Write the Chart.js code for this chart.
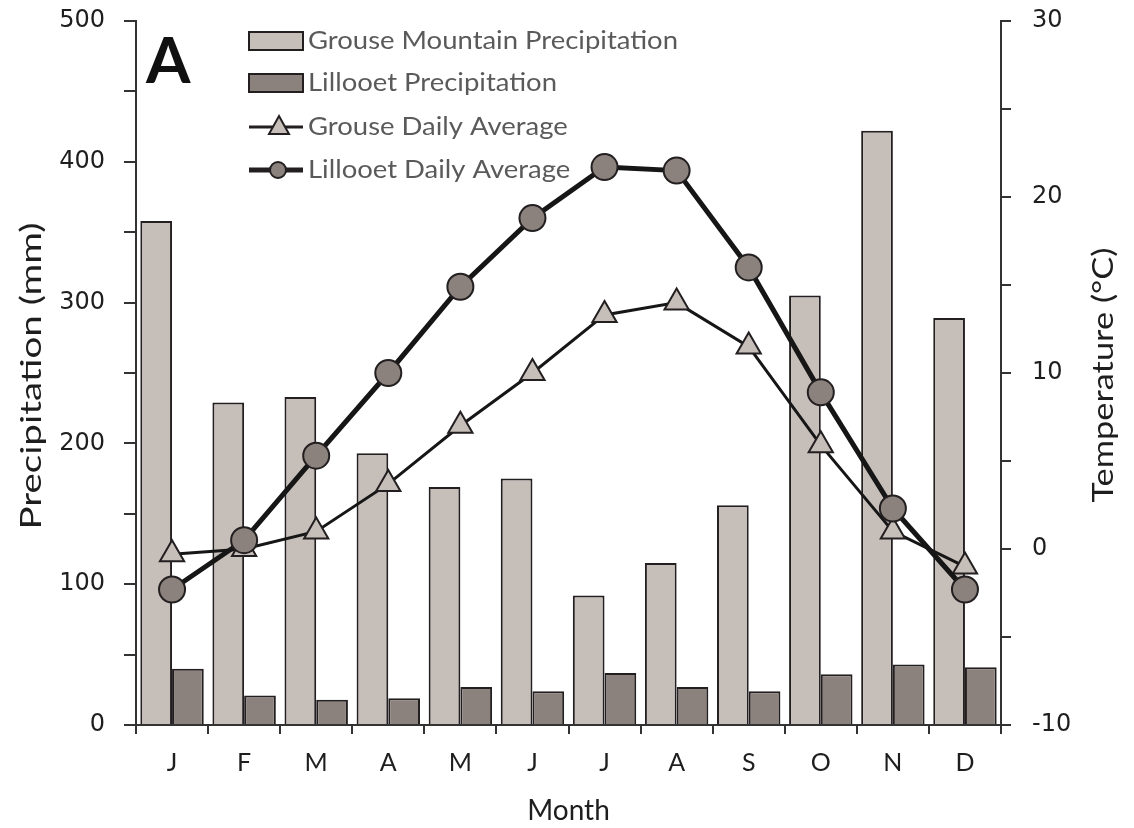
<!DOCTYPE html>
<html>
<head>
<meta charset="utf-8">
<script src="https://cdn.jsdelivr.net/npm/chart.js@4/dist/chart.umd.min.js"></script>
<style>
  html, body { margin: 0; padding: 0; background: #fff; }
  #wrap { width: 1134px; height: 828px; }
</style>
</head>
<body>
<div id="wrap"><canvas id="chart" width="1134" height="828"></canvas></div>
<script>
// values
var months = ['J', 'F', 'M', 'A', 'M', 'J', 'J', 'A', 'S', 'O', 'N', 'D'];
var grousePrecip = [358, 229, 233, 193, 169, 175, 92, 115, 156, 305, 422, 289];
var lillooetPrecip = [40, 21, 18, 19, 27, 24, 37, 27, 24, 36, 43, 41];
var grouseTemp = [-0.3, 0.0, 1.0, 3.7, 7.0, 10.0, 13.3, 14.0, 11.5, 5.9, 1.0, -1.0];
var lillooetTemp = [-2.3, 0.5, 5.3, 10.0, 14.9, 18.8, 21.7, 21.5, 16.0, 8.9, 2.3, -2.3];
var precipTicks = [0, 100, 200, 300, 400, 500];
var tempTicks = [-10, 0, 10, 20, 30];

var lightFill = '#c6beb9';
var darkFill = '#8b827d';
var edge = '#231f20';
var textCol = '#1e1e1e';
var legendText = '#5b5a5a';
var fontFam = 'Lato, "Open Sans", sans-serif';
var numFam = '"DejaVu Sans", sans-serif';

// rotated text stretched along its direction to a given length
function vText(ctx, txt, cx, cy, size, len) {
  ctx.save();
  ctx.font = size + 'px ' + fontFam;
  var w = ctx.measureText(txt).width;
  ctx.translate(cx, cy);
  ctx.rotate(-Math.PI / 2);
  ctx.scale(len / w, 1);
  ctx.textAlign = 'center';
  ctx.textBaseline = 'middle';
  ctx.fillStyle = textCol;
  ctx.fillText(txt, 0, 0);
  ctx.restore();
}

// legend, panel letter and axis titles drawn by hand
var extrasPlugin = {
  id: 'extras',
  afterDraw: function(chart) {
    var ctx = chart.ctx;
    ctx.save();
    ctx.font = 'bold 64px ' + fontFam;
    ctx.fillStyle = '#111';
    ctx.textBaseline = 'alphabetic';
    ctx.fillText('A', 146, 83);

    vText(ctx, 'Precipitation (mm)', 32, 376, 28, 307);
    vText(ctx, 'Temperature (°C)', 1104, 375, 28, 255);

    var x0 = 249, x1 = 303;
    var rows = [41, 83, 127, 170];
    var labels = ['Grouse Mountain Precipitation', 'Lillooet Precipitation',
                  'Grouse Daily Average', 'Lillooet Daily Average'];

    ctx.lineWidth = 2;
    ctx.strokeStyle = edge;
    ctx.fillStyle = lightFill;
    ctx.fillRect(x0, rows[0] - 9, x1 - x0, 18);
    ctx.strokeRect(x0, rows[0] - 9, x1 - x0, 18);
    ctx.fillStyle = darkFill;
    ctx.fillRect(x0, rows[1] - 9, x1 - x0, 18);
    ctx.strokeRect(x0, rows[1] - 9, x1 - x0, 18);

    ctx.lineWidth = 3;
    ctx.beginPath(); ctx.moveTo(x0, rows[2]); ctx.lineTo(x1, rows[2]); ctx.stroke();
    ctx.lineWidth = 2;
    ctx.fillStyle = lightFill;
    ctx.beginPath();
    ctx.moveTo(279, rows[2] - 11); ctx.lineTo(289, rows[2] + 7); ctx.lineTo(269, rows[2] + 7);
    ctx.closePath(); ctx.fill(); ctx.stroke();

    ctx.lineWidth = 5;
    ctx.beginPath(); ctx.moveTo(x0, rows[3]); ctx.lineTo(x1, rows[3]); ctx.stroke();
    ctx.lineWidth = 2;
    ctx.fillStyle = darkFill;
    ctx.beginPath(); ctx.arc(278, rows[3], 8, 0, Math.PI * 2); ctx.fill(); ctx.stroke();

    ctx.font = '25px ' + fontFam;
    var k = 370 / ctx.measureText(labels[0]).width;
    ctx.fillStyle = legendText;
    ctx.textBaseline = 'middle';
    for (var i = 0; i < labels.length; i++) {
      ctx.save();
      ctx.translate(308, rows[i]);
      ctx.scale(k, 1);
      ctx.fillText(labels[i], 0, 0);
      ctx.restore();
    }
    ctx.restore();
  }
};

function fixY(width) {
  return function(s) { s.width = width; s.paddingTop = 0; s.paddingBottom = 0; };
}

new Chart(document.getElementById('chart'), {
  type: 'bar',
  data: {
    labels: months,
    datasets: [{
      type: 'line',
      label: 'Lillooet Daily Average',
      data: lillooetTemp,
      yAxisID: 'yT',
      borderColor: '#161616',
      borderWidth: 5,
      pointStyle: 'circle',
      pointRadius: 13,
      pointBackgroundColor: darkFill,
      pointBorderColor: edge,
      pointBorderWidth: 2,
      tension: 0,
      order: 0
    }, {
      type: 'line',
      label: 'Grouse Daily Average',
      data: grouseTemp,
      yAxisID: 'yT',
      borderColor: '#161616',
      borderWidth: 3,
      pointStyle: 'triangle',
      pointRadius: 14,
      pointBackgroundColor: lightFill,
      pointBorderColor: edge,
      pointBorderWidth: 2,
      tension: 0,
      order: 1
    }, {
      label: 'Grouse Mountain Precipitation',
      data: grousePrecip,
      yAxisID: 'yP',
      backgroundColor: lightFill,
      borderColor: edge,
      borderWidth: 2,
      barPercentage: 1.0,
      categoryPercentage: 0.88,
      order: 2
    }, {
      label: 'Lillooet Precipitation',
      data: lillooetPrecip,
      yAxisID: 'yP',
      backgroundColor: darkFill,
      borderColor: edge,
      borderWidth: 2,
      barPercentage: 1.0,
      categoryPercentage: 0.88,
      order: 2
    }]
  },
  options: {
    responsive: false,
    animation: false,
    layout: { padding: { top: 21, right: 0, left: 0, bottom: 0 } },
    plugins: {
      legend: { display: false },
      tooltip: { enabled: false }
    },
    scales: {
      x: {
        grid: { offset: true, drawOnChartArea: false, tickLength: 9, color: '#333', lineWidth: 2 },
        border: { color: '#333', width: 2 },
        ticks: { color: textCol, font: { family: fontFam, size: 25 }, padding: 14 },
        title: { display: true, text: 'Month', color: textCol, font: { family: fontFam, size: 28 }, padding: { top: 4, bottom: 0 } },
        afterFit: function(s) { s.height = 103; s.paddingLeft = 0; s.paddingRight = 0; }
      },
      yP: {
        position: 'left',
        min: 0, max: 500,
        grid: { drawOnChartArea: false, tickLength: 12, color: '#333', lineWidth: 2 },
        border: { color: '#333', width: 2 },
        ticks: {
          stepSize: 50,
          color: textCol,
          font: { family: numFam, size: 24 },
          padding: 19,
          callback: function(v) { return precipTicks.indexOf(v) >= 0 ? v : ''; }
        },
        afterFit: fixY(136)
      },
      yT: {
        position: 'right',
        min: -10, max: 30,
        grid: { drawOnChartArea: false, tickLength: 10, color: '#333', lineWidth: 2 },
        border: { color: '#333', width: 2 },
        ticks: {
          stepSize: 5,
          color: textCol,
          font: { family: numFam, size: 24 },
          padding: 21,
          callback: function(v) { return tempTicks.indexOf(v) >= 0 ? v : ''; }
        },
        afterFit: fixY(133)
      }
    }
  },
  plugins: [extrasPlugin]
});
</script>
</body>
</html>
